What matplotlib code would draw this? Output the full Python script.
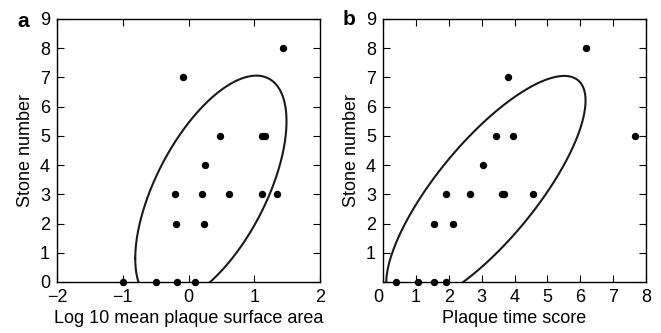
import numpy as np
from matplotlib import pyplot as plt

plt.rcParams['font.family'] = 'Liberation Sans'

# panel a: log10 mean plaque surface area vs stone number
area_x = [1.44, -0.09, 0.48, 1.12, 1.17, 0.25, -0.21, 0.21, 0.62, 1.11, 1.34,
          -0.19, 0.24, -0.99, -0.50, -0.17, 0.10]
area_y = [8, 7, 5, 5, 5, 4, 3, 3, 3, 3, 3, 2, 2, 0, 0, 0, 0]

# panel b: plaque time score vs stone number
time_x = [6.18, 3.80, 3.45, 3.94, 7.67, 3.05, 1.91, 2.66, 3.62, 3.68, 4.55,
          1.54, 2.13, 0.40, 1.08, 1.55, 1.93]
time_y = [8, 7, 5, 5, 5, 4, 3, 3, 3, 3, 3, 2, 2, 0, 0, 0, 0]

# ellipse params: centre x, centre y, half width, half height, correlation
area_ell = (0.34, 3.15, 1.15, 3.91, 0.60)
time_ell = (3.13, 3.09, 3.03, 3.96, 0.786)


def ellipse(ax, params):
    cx, cy, sx, sy, r = params
    t = np.linspace(0, 2 * np.pi, 500) + np.pi
    ax.plot(cx + sx * np.cos(t), cy + sy * np.cos(t - np.arccos(r)),
            color='#1a1a1a', lw=1.5, solid_joinstyle='round',
            solid_capstyle='round')


def style(ax):
    ax.tick_params(direction='in', top=True, right=True, length=5,
                   width=0.8, labelsize=13, pad=5)
    for s in ax.spines.values():
        s.set_linewidth(1.0)
    ax.set_ylim(0, 9)
    ax.set_ylabel('Stone number', fontsize=13, labelpad=4)


fig = plt.figure(figsize=(6.61, 3.33), dpi=100)
ax1 = fig.add_axes([0.0862, 0.1532, 0.398, 0.790])
ax2 = fig.add_axes([0.5794, 0.1532, 0.398, 0.790])

ellipse(ax1, area_ell)
ax1.plot(area_x, area_y, 'o', color='black', ms=4.3, clip_on=False)
style(ax1)
ax1.set_xlim(-2, 2)
ax1.set_xticks([-2, -1, 0, 1, 2])
ax1.set_xticklabels(['\u22122', '\u22121', '0', '1', '2'])
ax1.set_yticks(range(10))
ax1.set_xlabel('Log 10 mean plaque surface area', fontsize=13, labelpad=3)

ellipse(ax2, time_ell)
ax2.plot(time_x, time_y, 'o', color='black', ms=4.3, clip_on=False)
style(ax2)
ax2.set_xlim(0, 8)
ax2.set_xticks(range(9))
ax2.set_yticks(range(10))
ax2.set_yticklabels([''] + [str(i) for i in range(1, 10)])
ax2.get_xticklabels()[0].set_horizontalalignment('right')
ax2.set_xlabel('Plaque time score', fontsize=13, labelpad=3)

fig.text(0.035, 0.935, 'a', fontsize=15, fontweight='bold', va='center', ha='center')
fig.text(0.528, 0.94, 'b', fontsize=15, fontweight='bold', va='center', ha='center')

fig.savefig('out.png', dpi=100)
